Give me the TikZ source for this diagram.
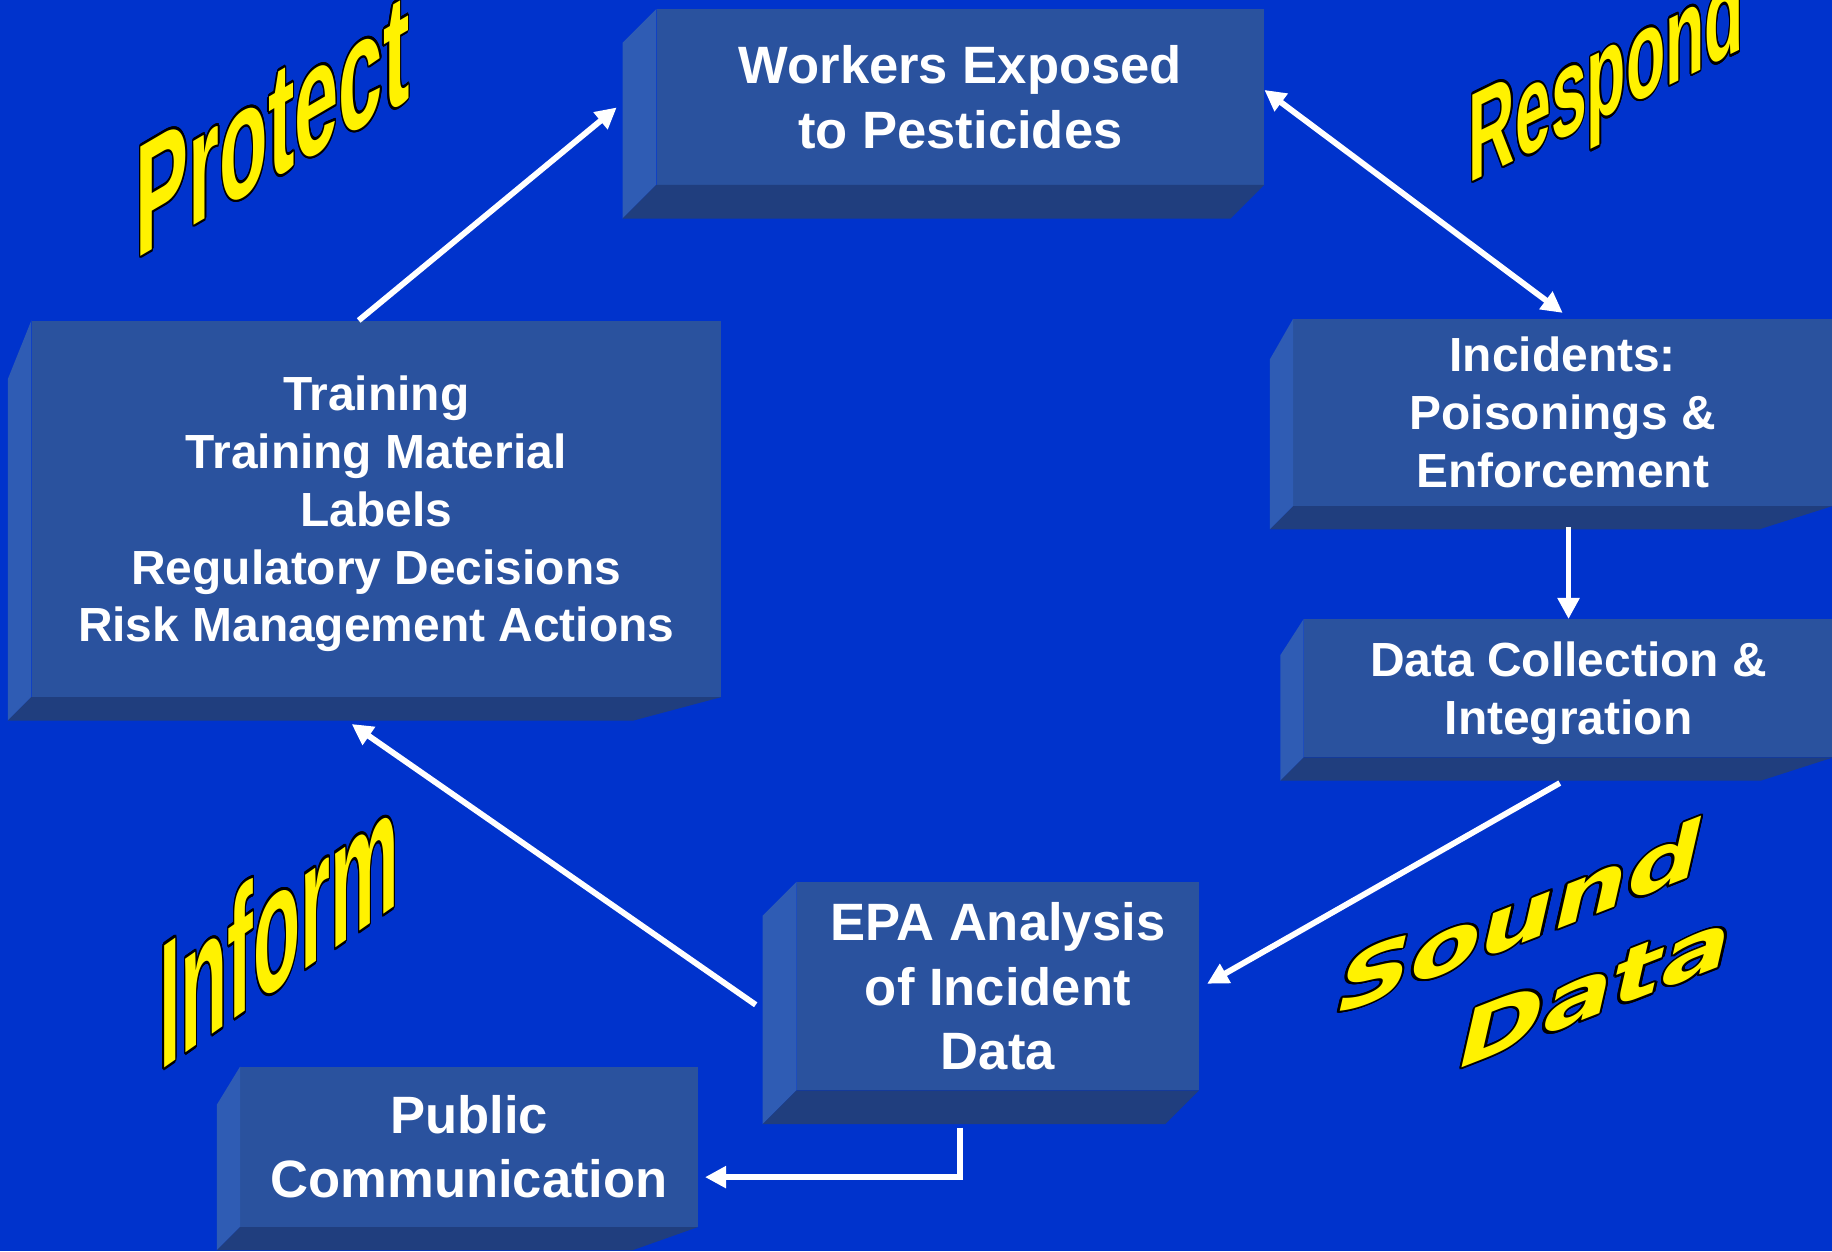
\documentclass[tikz,border=0pt]{standalone}
\usepackage{fontspec}
\setmainfont{Liberation Sans}
\newfontfamily\heavyfont{DejaVu Sans}
\usepackage{contour}
\contourlength{1.1pt}
\usetikzlibrary{arrows.meta,calc}

\definecolor{slidebg}{RGB}{0,51,204}
\definecolor{frontface}{RGB}{42,82,158}
\definecolor{sideface}{RGB}{47,92,180}
\definecolor{baseface}{RGB}{32,62,126}

\tikzset{
  face/.style={fill=frontface, text=white, align=center, inner sep=0pt, text depth=-9pt,
    font=\bfseries\fontsize{45}{55}\selectfont},
  smallface/.style={face, font=\bfseries\fontsize{41}{49.5}\selectfont},
  flow/.style={draw=white, line width=5pt, ->},
  >={Triangle[length=18pt,width=18pt]},
  wordart/.style={text=yellow, inner sep=0pt, anchor=base west},
}

\newcommand{\boxfaces}[1]{%
  \path [fill=sideface] (#1.north west) -- (#1-bnw) -- (#1-bsw) -- (#1.south west) -- cycle;
  \path [fill=baseface] (#1.south west) -- (#1-bsw) -- (#1-bse) -- (#1.south east) -- cycle;}
\newcommand{\perspfaces}[1]{%
  \coordinate (#1-vp) at ($(#1.south west)+(-215,-215)$);
  \foreach \c/\s in {north west/nw,south west/sw,south east/se}
    \coordinate (#1-b\s) at ($(#1.\c)!0.093!(#1-vp)$);
  \boxfaces{#1}}
\newcommand{\flatfaces}[1]{%
  \foreach \c/\s in {north west/nw,south west/sw,south east/se}
    \coordinate (#1-b\s) at ($(#1.\c)+(-29,-29)$);
  \boxfaces{#1}}

\begin{document}
\begin{tikzpicture}[x=1pt,y=1pt]
    \useasboundingbox (0,0) rectangle (1568,1071);
    \clip (0,0) rectangle (1568,1071);
    \path [fill=slidebg] (0,0) rectangle (1568,1071);

    \node (workers) at (822,988) [face, minimum width=520pt, minimum height=150pt] {Workers Exposed\\to Pesticides};
    \node (incidents) at (1337.5,718) [smallface, minimum width=461pt, minimum height=160pt] {Incidents:\\Poisonings \&\\Enforcement};
    \node (datacoll) at (1342.5,482) [smallface, minimum width=453pt, minimum height=118pt] {Data Collection \&\\Integration};
    \node (training) at (322,635.5) [smallface, minimum width=590pt, minimum height=322pt] {Training\\Training Material\\Labels\\Regulatory Decisions\\Risk Management Actions};
    \node (epa) at (854,227) [face, minimum width=344pt, minimum height=178pt] {EPA Analysis\\of Incident\\Data};
    \node (public) at (401.5,89.5) [face, minimum width=391.5pt, minimum height=137pt] {Public\\Communication};
    \flatfaces{workers}
    \flatfaces{epa}
    \perspfaces{incidents}
    \perspfaces{datacoll}
    \perspfaces{training}
    \perspfaces{public}

    \path [flow] ($(training.north)+(-15,0)$) -- ($(workers.west)+(-34,-9)$);
    \path [flow,<->] ($(workers.east)+(0,6)$) -- ($(incidents.north)+(0,5)$);
    \path [flow] ($(datacoll.north |- incidents-bsw)+(0,2)$) -- (datacoll.north);
    \path [flow] ($(datacoll.south)+(-7.5,-22)$) -- ($(epa.east)+(7,2)$);
    \path [flow] ($(epa.west)+(-35,-16)$) -- ($(training.south)+(-21,-23)$);
    \path [flow] ($(epa.south)+(-32,-32)$) |- ($(public.east)+(6,-26)$);

    \node (protect) at (116,849) [wordart, yslant=0.586, yscale=2.0, font=\bfseries\fontsize{68}{68}\selectfont] {\contour{black}{Protect}};
    \node (respond) at (1257,914) [wordart, yslant=0.49, yscale=1.95, font=\bfseries\fontsize{55}{55}\selectfont] {\contour{black}{Respond}};
    \node (inform) at (136,154) [wordart, yslant=0.70, yscale=2.3, font=\bfseries\fontsize{66}{66}\selectfont] {\contour{black}{Inform}};
    \node (sound) at (1139,200) [wordart, yslant=0.39, xslant=0.25, xscale=2.0, yscale=1.45, font=\heavyfont\bfseries\fontsize{44}{44}\selectfont] {\contour{black}{Sound}};
    \node (data) at (1243,154) [wordart, yslant=0.39, xslant=0.25, xscale=2.0, yscale=1.45, font=\heavyfont\bfseries\fontsize{44}{44}\selectfont] {\contour{black}{Data}};
\end{tikzpicture}
\end{document}
